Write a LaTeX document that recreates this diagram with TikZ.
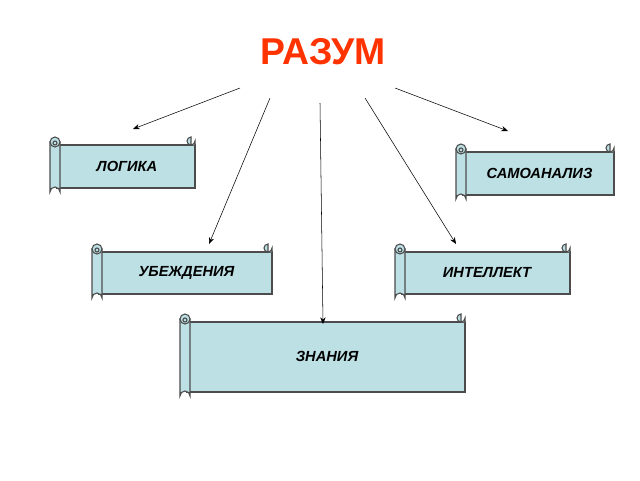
\documentclass[tikz,border=0pt]{standalone}
\usepackage{fontspec}
\setmainfont{Liberation Sans}
\usetikzlibrary{arrows.meta}
\definecolor{scrollfill}{HTML}{BCE0E4}
\definecolor{titlered}{HTML}{FF3300}
\tikzset{scrollline/.style={draw=black!70,fill=scrollfill,line width=0.8pt},
  label/.style={font=\bfseries\itshape\fontsize{11}{13}\selectfont},
  ray/.style={-{Stealth[length=5pt,width=4pt]},thin}}
% #1 name, #2 left, #3 top, #4 right, #5 bottom, #6 text
\newcommand{\scroll}[6]{%
  \draw[scrollline] (#2+7,#3+9) -- (#4-3,#3+9) -- (#4-3,#5-6) -- (#2+7,#5-6) -- cycle;
  \draw[scrollline] (#4-3,#3+9) -- (#4-3,#3+5) arc(0:270:4) -- (#4-7,#3+9);
  \draw[scrollline] (#2,#3+6) -- (#2,#5-2) arc(180:360:5) -- (#2+10,#3+6) -- cycle;
  \draw[scrollline] (#2+5,#3+6) circle (5);
  \draw[scrollline] (#2+5,#3+7) circle (2);
  \node[label] (#1) at ({(#2+#4)/2+3},{(#3+#5)/2+1}) {#6};
  \coordinate (#1 tip) at ({(#2+#4)/2},#3);}
\begin{document}
\begin{tikzpicture}[x=0.75pt,y=-0.75pt]
\useasboundingbox (0,0) rectangle (640,480);
\node[font=\bfseries\fontsize{28}{30}\selectfont,text=titlered] (razum) at (323,52) {РАЗУМ};

\scroll{logika}{50}{136}{198}{194}{ЛОГИКА}
\scroll{samo}{456}{143}{617}{201}{САМОАНАЛИЗ}
\scroll{ubezh}{92}{243}{275}{300}{УБЕЖДЕНИЯ}
\scroll{intel}{395}{243}{573}{300}{ИНТЕЛЛЕКТ}
\scroll{znan}{180}{313}{468}{398}{ЗНАНИЯ}

\coordinate (s1) at (240,88);
\coordinate (s2) at (270,98);
\coordinate (s3) at (320,103);
\coordinate (s4) at (365,98);
\coordinate (s5) at (395,88);
\coordinate (e1) at (133,129);
\coordinate (e2) at (209,244);
\coordinate (e3) at (323,324);
\coordinate (e4) at (456,244);
\coordinate (e5) at (508,131);
\foreach \i in {1,...,5}
  \draw[ray] (s\i) -- (e\i);
\end{tikzpicture}
\end{document}
